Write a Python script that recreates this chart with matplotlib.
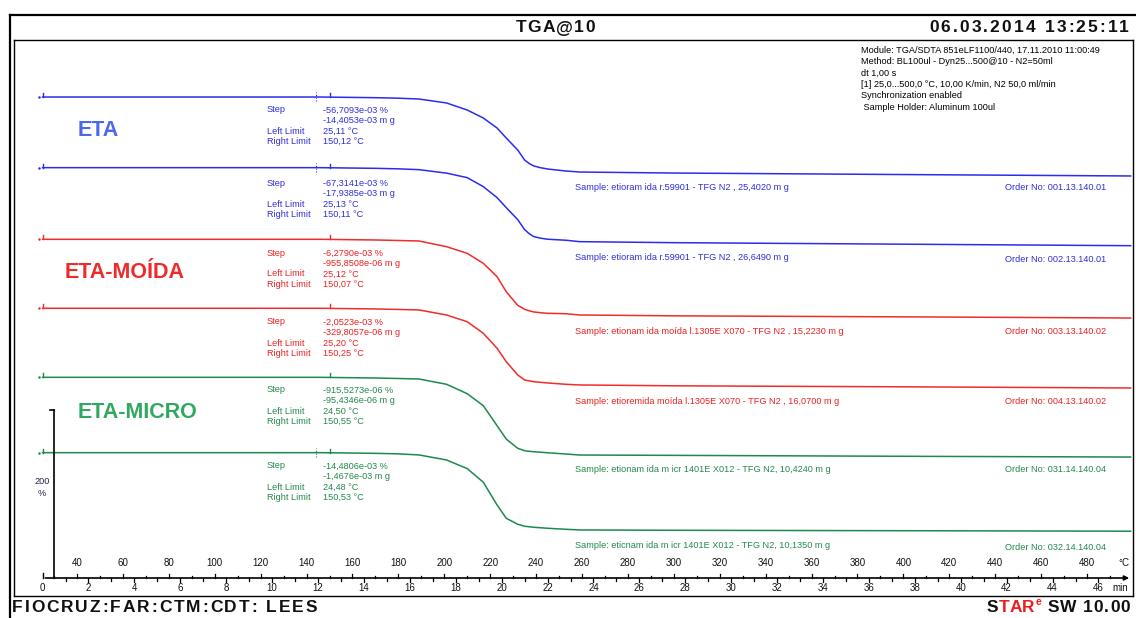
import matplotlib
matplotlib.use("Agg")
import matplotlib.pyplot as plt

# ---------------- data ----------------
temperature = [25, 146, 170, 180, 189, 201, 210, 217, 223, 227, 232, 235, 237, 239, 242, 245, 253, 259, 300, 400, 499]
eta_1 = [100, 100, 99.2, 98.6, 97.6, 92.9, 84.5, 75.0, 63.1, 51.2, 36.9, 25.0, 20.8, 17.9, 15.8, 14.3, 11.9, 10.7, 9.5, 7.7, 6.0]
eta_2 = [100, 100, 99.2, 98.6, 97.6, 93.5, 88.1, 77.4, 64.3, 52.4, 38.1, 26.2, 21.4, 17.9, 16.0, 14.8, 13.6, 11.9, 10.7, 8.9, 7.1]
moida_1 = [100, 100, 99.2, 98.6, 98.0, 91.2, 83.3, 71.4, 55.5, 37.6, 21.4, 16.7, 14.9, 13.5, 12.6, 11.9, 11.4, 9.9, 8.9, 7.7, 6.3]
moida_2 = [100, 100, 99.2, 98.6, 98.0, 92.0, 84.0, 70.2, 52.4, 36.4, 20.6, 14.6, 13.6, 12.6, 11.8, 11.1, 9.5, 8.7, 7.7, 6.5, 5.1]
micro_1 = [100, 100, 99.2, 98.6, 98.0, 91.7, 80.5, 66.2, 42.4, 26.5, 15.5, 12.6, 11.9, 11.4, 10.8, 10.2, 8.7, 7.5, 7.1, 6.0, 5.1]
micro_2 = [100, 100, 99.2, 98.6, 97.3, 91.3, 81.0, 64.8, 37.7, 21.9, 14.8, 12.4, 11.8, 11.2, 10.6, 10.0, 8.8, 8.0, 7.6, 7.1, 6.5]
display_offsets = [472.6, 388.5, 303.2, 221.1, 138.9, 49.2]   # vertical stacking of curves (%)

sample_labels = [
    "Sample: etioram ida r.59901 - TFG N2 , 25,4020 m g",
    "Sample: etioram ida r.59901 - TFG N2 , 26,6490 m g",
    "Sample: etionam ida moída l.1305E X070 - TFG N2 , 15,2230 m g",
    "Sample: etioremida moída l.1305E X070 - TFG N2 , 16,0700 m g",
    "Sample: etionam ida m icr 1401E X012 - TFG N2, 10,4240 m g",
    "Sample: eticnam ida m icr 1401E X012 - TFG N2, 10,1350 m g",
]
order_labels = ["Order No: 001.13.140.01", "Order No: 002.13.140.01",
                "Order No: 003.13.140.02", "Order No: 004.13.140.02",
                "Order No: 031.14.140.04", "Order No: 032.14.140.04"]
step_pct = ["-56,7093e-03 %", "-67,3141e-03 %", "-6,2790e-03 %",
            "-2,0523e-03 %", "-915,5273e-06 %", "-14,4806e-03 %"]
step_mg = ["-14,4053e-03 m g", "-17,9385e-03 m g", "-955,8508e-06 m g",
           "-329,8057e-06 m g", "-95,4346e-06 m g", "-1,4676e-03 m g"]
left_limits = ["25,11 °C", "25,13 °C", "25,12 °C", "25,20 °C", "24,50 °C", "24,48 °C"]
right_limits = ["150,12 °C", "150,11 °C", "150,07 °C", "150,25 °C", "150,55 °C", "150,53 °C"]
group_names = ["ETA", "ETA-MOÍDA", "ETA-MICRO"]
temp_ticks = list(range(40, 481, 20))
min_ticks = list(range(0, 47, 2))

# ---------------- styling ----------------
W, H = 1136, 618
fig = plt.figure(figsize=(W / 100, H / 100), dpi=100)
fig.patch.set_facecolor("white")
ax = fig.add_axes([0, 0, 1, 1])
PXT = 2.2955          # px per degC
PXY = 0.84            # px per %
Y0 = 578              # pixel row of % zero / x-axis
ax.set_xlim(40 - 77 / PXT, 40 + (W - 77) / PXT)
ax.set_ylim((Y0 - H) / PXY, Y0 / PXY)
ax.axis("off")

SMALL = ["Liberation Sans", "DejaVu Sans"]
BOLD = ["Liberation Sans", "DejaVu Sans"]
renderer = fig.canvas.get_renderer()

def fx(x):
    return x / W

def fy(y):
    return 1 - y / H

def t_of(x):
    return 40 + (x - 77) / PXT

def v_of(y):
    return (Y0 - y) / PXY

def pline(xs, ys, **kw):
    fig.add_artist(plt.Line2D([fx(x) for x in xs], [fy(y) for y in ys], **kw))

def ptext(x, y, s, **kw):
    kw.setdefault("family", SMALL)
    kw.setdefault("fontsize", 6.6)
    return fig.text(fx(x), fy(y), s, va="center", **kw)

def spaced(x, y, s, gap, ha="left", **kw):
    """Draw text with extra letter spacing (gap in px)."""
    widths = []
    for ch in s:
        t = fig.text(0, 0, ch if ch != " " else "n", va="center", **kw)
        w = t.get_window_extent(renderer).width
        if ch == " ":
            w *= 0.5
        widths.append(w)
        t.remove()
    total = sum(widths) + gap * (len(s) - 1)
    x0 = x if ha == "left" else (x - total if ha == "right" else x - total / 2)
    cx = x0
    for ch, w in zip(s, widths):
        if ch != " ":
            fig.text(fx(cx), fy(y), ch, va="center", ha="left", **kw)
        cx += w + gap
    return x0, x0 + total

# ---------------- frames ----------------
pline([10, 10], [15, 618], color="black", lw=1.6)
pline([13.5, 13.5], [40, 596], color="black", lw=1.0)
pline([10, 1136], [15, 15], color="black", lw=1.6)
pline([13.5, 1133], [40, 40], color="black", lw=1.0)
pline([13.5, 1133], [596, 596], color="black", lw=1.0)
pline([1133, 1133], [40, 596], color="black", lw=1.0)

hdr = dict(family=BOLD, fontsize=12.5, weight="bold", color="#111111")
spaced(555, 28, "TGA@10", 1.2, ha="center", **hdr)
spaced(1129, 28, "06.03.2014 13:25:11", 2.1, ha="right", **hdr)
spaced(12, 608, "FIOCRUZ:FAR:CTM:CDT: LEES", 1.9, ha="left", **hdr)
x0, _ = spaced(1130, 608, "SW 10.00", 0.8, ha="right", **hdr)
star_red = dict(hdr, color="#ee1c1c")
xs0, xs1 = spaced(x0 - 13, 608, "TAR", 0.0, ha="right", **star_red)
ptext(xs1 + 1, 602, "e", family=BOLD, fontsize=7.5, weight="bold", ha="left", color="#ee1c1c")
spaced(xs0 - 0.5, 608, "S", 0, ha="right", **hdr)

module_lines = ["Module: TGA/SDTA 851eLF1100/440, 17.11.2010 11:00:49",
                "Method: BL100ul - Dyn25...500@10 - N2=50ml",
                "dt 1,00 s",
                "[1] 25,0...500,0 °C, 10,00 K/min, N2 50,0 ml/min",
                "Synchronization enabled",
                " Sample Holder: Aluminum 100ul"]
for i, s in enumerate(module_lines):
    ptext(861, 50 + i * 11.5, s, color="black", fontsize=6.6)

# ---------------- curves ----------------
curves = [eta_1, eta_2, moida_1, moida_2, micro_1, micro_2]
line_colors = ["#2b2bf2", "#2b2bf2", "#f22b2b", "#f22b2b", "#1b8a4c", "#1b8a4c"]
text_colors = ["#2f2fd8", "#2f2fd8", "#ec2020", "#ec2020", "#23894a", "#23894a"]
for i, (c, off) in enumerate(zip(curves, display_offsets)):
    ax.plot(temperature, [v + off for v in c], color=line_colors[i], lw=1.1,
            solid_joinstyle="round")
    top = c[0] + off
    ax.plot([25, 25], [top, top + 4 / PXY], color=line_colors[i], lw=1.0)
    ax.plot([23.4], [top], marker="o", ms=0.8, color=line_colors[i])
    ax.plot([150, 150], [top, top + 4 / PXY], color=line_colors[i], lw=1.0)
    if i in (0, 1, 5):
        ax.plot([144, 144], [top - 4 / PXY, top + 5 / PXY], color=line_colors[i], lw=0.8, ls=(0, (1, 1.5)))

# annotation blocks
block_y = [110, 183, 253, 322, 390, 466]
for i, y in enumerate(block_y):
    col = text_colors[i]
    ptext(267, y, "Step", color=col)
    ptext(323, y, step_pct[i], color=col)
    ptext(323, y + 10.5, step_mg[i], color=col)
    ptext(267, y + 21, "Left Limit", color=col)
    ptext(323, y + 21, left_limits[i], color=col)
    ptext(267, y + 31.5, "Right Limit", color=col)
    ptext(323, y + 31.5, right_limits[i], color=col)

sample_y = [187, 258, 331, 401, 470, 545]
order_y = [187, 260, 331, 401, 470, 547]
for i in range(6):
    ptext(575, sample_y[i], sample_labels[i], color=text_colors[i])
    ptext(1106, order_y[i], order_labels[i], color=text_colors[i], ha="right")

group_y = [130, 272, 412]
group_x = [78, 65, 78]
group_colors = ["#4a68ec", "#ee2a2a", "#30a860"]
for name, x, y, col in zip(group_names, group_x, group_y, group_colors):
    ptext(x, y, name, family=BOLD, fontsize=15.5, weight="bold", color=col)

# ---------------- axes ----------------
ax.plot([t_of(54), t_of(54)], [0, 200], color="black", lw=1.2)
ax.plot([t_of(50), t_of(54)], [200, 200], color="black", lw=1.2)
ptext(42, 482, "200", color="#222244", ha="center")
ptext(42, 493, "%", color="#222244", ha="center")

ax.annotate("", xy=(t_of(1132), 0), xytext=(25, 0),
            arrowprops=dict(arrowstyle="-|>", color="black", lw=1.2, mutation_scale=7))
ax.plot([25, 25], [0, 5 / PXY], color="black", lw=1.0)
for t in range(30, 500, 10):
    h = 4 if t % 20 == 0 else 2.5
    ax.plot([t, t], [0, h / PXY], color="black", lw=0.9)
for m in range(1, 47):
    t = 25 + 10 * m
    h = 4 if m % 2 == 0 else 2.5
    ax.plot([t, t], [0, -h / PXY], color="black", lw=0.9)
for t in temp_ticks:
    ax.text(t, v_of(563), str(t), ha="center", va="center", fontsize=7, family=SMALL, color="#111111")
for m in min_ticks:
    ax.text(25 + 10 * m, v_of(588), str(m), ha="center", va="center", fontsize=7, family=SMALL, color="#111111")
ax.text(t_of(1124), v_of(563), "°C", ha="center", va="center", fontsize=7, family=SMALL, color="#111111")
ax.text(t_of(1120), v_of(588), "min", ha="center", va="center", fontsize=7, family=SMALL, color="#111111")

fig.savefig("out.png", dpi=100, facecolor="white")
